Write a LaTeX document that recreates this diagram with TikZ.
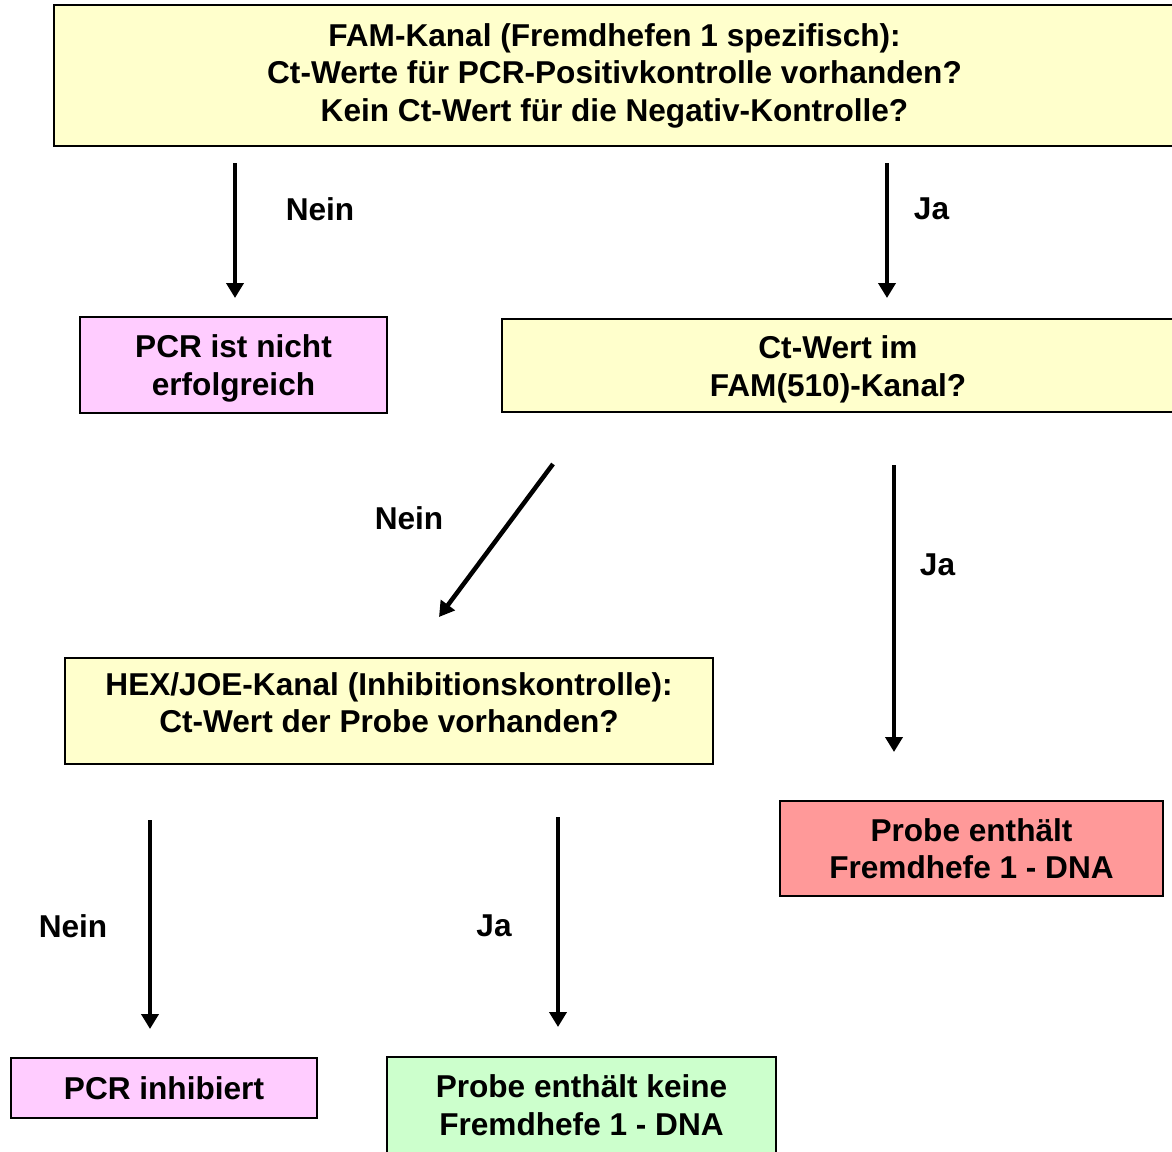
\documentclass[tikz,border=0pt]{standalone}
\usepackage{fontspec}
\setmainfont{Liberation Sans}
\usetikzlibrary{arrows.meta}
\definecolor{boxyellow}{HTML}{FFFFCC}
\definecolor{boxpink}{HTML}{FFCCFF}
\definecolor{boxred}{HTML}{FF9999}
\definecolor{boxgreen}{HTML}{CCFFCC}
\tikzset{
  box/.style={draw=black, line width=2pt, inner sep=0pt, align=center,
    font=\fontsize{31.6}{37.5}\selectfont\bfseries},
  lbl/.style={inner sep=0pt, font=\fontsize{31.6}{37.5}\selectfont\bfseries},
  arr/.style={line width=4.5pt, -{Triangle[length=15pt,width=17pt]}}
}
\begin{document}
\begin{tikzpicture}[x=1pt,y=-1pt]
\path[use as bounding box, clip] (0,0) rectangle (1172,1151);
\fill[white] (0,0) rectangle (1172,1151);
% boxes
\node[box, fill=boxyellow, minimum width=1121pt, minimum height=141pt] (top) at (614.5,75.5)
  {FAM-Kanal (Fremdhefen 1 spezifisch):\\Ct-Werte für PCR-Positivkontrolle vorhanden?\\Kein Ct-Wert für die Negativ-Kontrolle?};
\node[box, fill=boxpink, minimum width=307pt, minimum height=96pt] (fail) at (233.5,365)
  {\rule{0pt}{30pt}PCR ist nicht\\erfolgreich};
\node[box, fill=boxyellow, minimum width=672pt, minimum height=93pt] (fam) at (838,365.5)
  {\rule{0pt}{31pt}Ct-Wert im\\FAM(510)-Kanal?};
\node[box, fill=boxyellow, minimum width=648pt, minimum height=106pt] (hex) at (389,711)
  {HEX/JOE-Kanal (Inhibitionskontrolle):\\Ct-Wert der Probe vorhanden?\rule[-17pt]{0pt}{17pt}};
\node[box, fill=boxred, minimum width=383pt, minimum height=95pt] (pos) at (971.5,848.5)
  {Probe enthält\\Fremdhefe 1 - DNA};
\node[box, fill=boxpink, minimum width=306pt, minimum height=60pt] (inh) at (164,1088)
  {PCR inhibiert};
\node[box, fill=boxgreen, minimum width=389pt, minimum height=96pt] (neg) at (581.5,1105)
  {Probe enthält keine\\Fremdhefe 1 - DNA};
% arrow endpoints
\coordinate (a1s) at (235,163); \coordinate (a1e) at (235,298);
\coordinate (a2s) at (887,163); \coordinate (a2e) at (887,298);
\coordinate (a3s) at (553,464); \coordinate (a3e) at (439,617);
\coordinate (a4s) at (894,465); \coordinate (a4e) at (894,752);
\coordinate (a5s) at (150,820); \coordinate (a5e) at (150,1029);
\coordinate (a6s) at (558,817); \coordinate (a6e) at (558,1027);
\draw[arr] (a1s) -- (a1e);
\draw[arr] (a2s) -- (a2e);
\draw[arr] (a3s) -- (a3e);
\draw[arr] (a4s) -- (a4e);
\draw[arr] (a5s) -- (a5e);
\draw[arr] (a6s) -- (a6e);
% labels
\node[lbl] (l1) at (320,209) {Nein};
\node[lbl] (l2) at (931.5,209) {Ja};
\node[lbl] (l3) at (409,518) {Nein};
\node[lbl] (l4) at (937.5,565) {Ja};
\node[lbl] (l5) at (73,926) {Nein};
\node[lbl] (l6) at (494,926) {Ja};
\end{tikzpicture}
\end{document}
